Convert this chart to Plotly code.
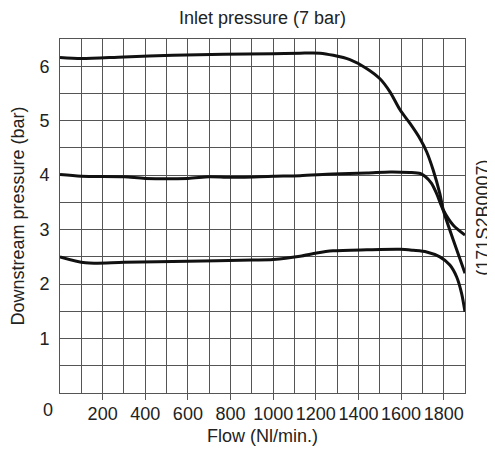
import plotly.graph_objects as go

# Flow (Nl/min.) vs downstream pressure (bar), inlet pressure 7 bar
flow_6bar = [0, 100, 300, 530, 770, 1000, 1126, 1220, 1282, 1360, 1438, 1501,
             1548, 1595, 1642, 1689, 1720, 1751, 1782, 1798, 1845, 1900]
pres_6bar = [6.16, 6.14, 6.17, 6.20, 6.22, 6.23, 6.24, 6.24, 6.20, 6.12, 5.96, 5.77,
             5.53, 5.20, 4.95, 4.67, 4.43, 4.09, 3.66, 3.36, 2.81, 2.20]

flow_4bar = [0, 100, 300, 400, 600, 700, 800, 1000, 1126, 1280, 1440, 1550,
             1640, 1690, 1712, 1743, 1767, 1798, 1845, 1900]
pres_4bar = [4.01, 3.98, 3.97, 3.94, 3.94, 3.97, 3.96, 3.98, 3.99, 4.02, 4.04, 4.06,
             4.05, 4.03, 3.98, 3.85, 3.66, 3.36, 3.08, 2.90]

flow_25bar = [0, 120, 300, 600, 900, 1000, 1126, 1204, 1281, 1439, 1595, 1657,
              1720, 1782, 1829, 1861, 1884, 1900]
pres_25bar = [2.50, 2.39, 2.40, 2.42, 2.44, 2.45, 2.51, 2.57, 2.61, 2.63, 2.64, 2.62,
              2.59, 2.50, 2.35, 2.13, 1.83, 1.49]

x_ticks = [200, 400, 600, 800, 1000, 1200, 1400, 1600, 1800]
y_ticks = [1, 2, 3, 4, 5, 6]

FONT = "Liberation Sans, Arial, sans-serif"
INK = "#222222"
GRID = "#555555"

fig = go.Figure()
for xs, ys in [(flow_6bar, pres_6bar), (flow_4bar, pres_4bar), (flow_25bar, pres_25bar)]:
    fig.add_trace(go.Scatter(
        x=xs, y=ys, mode="lines",
        line=dict(color="#111111", width=3, shape="spline", smoothing=0.8),
        showlegend=False, hoverinfo="skip",
    ))

fig.update_xaxes(
    range=[0, 1900], tickvals=x_ticks, ticks="outside", ticklen=6,
    tickcolor=GRID, tickwidth=1,
    showgrid=True, gridcolor=GRID, gridwidth=1,
    minor=dict(dtick=100, tick0=0, showgrid=True, gridcolor=GRID, gridwidth=1),
    showline=True, linecolor=GRID, linewidth=1, mirror=True,
    zeroline=False, automargin=False, ticklabelstandoff=-2,
    tickfont=dict(family=FONT, size=18, color=INK),
    title=dict(text="Flow (Nl/min.)", font=dict(family=FONT, size=18, color=INK), standoff=6),
)
fig.update_yaxes(
    range=[0, 6.5], tickvals=y_ticks, ticks="",
    showgrid=True, gridcolor=GRID, gridwidth=1,
    minor=dict(dtick=0.5, tick0=0, showgrid=True, gridcolor=GRID, gridwidth=1),
    showline=True, linecolor=GRID, linewidth=1, mirror=True,
    zeroline=False, automargin=False, ticklabelstandoff=6,
    tickfont=dict(family=FONT, size=18, color=INK),
    title=dict(text="Downstream pressure (bar)", font=dict(family=FONT, size=18, color=INK), standoff=12),
)

fig.add_annotation(text="0", xref="paper", yref="paper", x=-0.0296, y=-0.048,
                   showarrow=False, xanchor="center", yanchor="middle",
                   font=dict(family=FONT, size=18, color=INK))
fig.add_annotation(text="(171S2B0007)", xref="paper", yref="paper", x=1.045, y=0.496,
                   showarrow=False, xanchor="center", yanchor="middle", textangle=-90,
                   font=dict(family=FONT, size=18, color=INK))

# page body adds an 8px offset, so the figure is sized to fit the window
fig.update_layout(
    width=487, height=442,
    margin=dict(l=52, r=30, t=31, b=57),
    paper_bgcolor="white", plot_bgcolor="white",
    title=dict(text="Inlet pressure (7 bar)", x=0.5, xref="paper", y=0.978, yref="container",
               xanchor="center", yanchor="middle", font=dict(family=FONT, size=18, color=INK)),
)

fig.write_html("out.html")
